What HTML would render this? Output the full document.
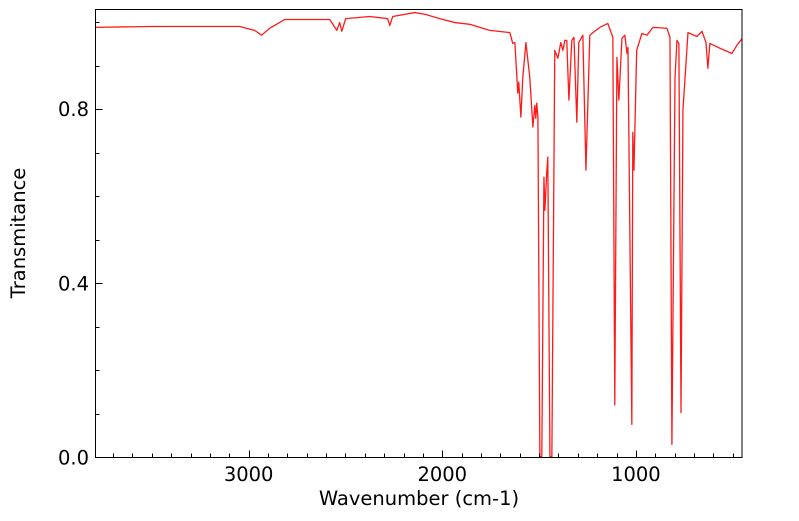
<!DOCTYPE html>
<html><head><meta charset="utf-8"><style>
body{margin:0;background:#fff;width:799px;height:516px;overflow:hidden}
svg text{font-family:"DejaVu Sans","Liberation Sans",sans-serif;font-size:19.5px;fill:#000}
</style></head><body>
<svg id="chart" width="799" height="516"></svg>
<script>
const wavenumbers=[3791,3512,3047,2969,2933,2891,2814,2581,2545,2530,2519,2499,2375,2282,2271,2256,2142,2090,2013,1935,1858,1806,1755,1651,1636,1625,1610,1605,1594,1584,1568,1548,1532,1522,1517,1512,1506,1496,1486,1475,1470,1460,1455,1444,1434,1419,1403,1388,1377,1367,1357,1346,1331,1320,1305,1295,1274,1258,1238,1222,1186,1145,1119,1109,1098,1088,1072,1057,1046,1041,1021,1016,1010,996,969,943,912,840,824,814,798,788,778,767,757,747,731,685,659,638,628,618,566,504,478,452];
const transmittance=[0.988,0.990,0.990,0.981,0.970,0.986,1.006,1.006,0.981,0.999,0.979,1.008,1.013,1.008,0.992,1.013,1.022,1.018,1.008,0.999,0.995,0.988,0.981,0.976,0.951,0.953,0.837,0.862,0.782,0.873,0.953,0.873,0.759,0.809,0.779,0.814,0.782,0.002,0.002,0.644,0.568,0.660,0.690,0.002,0.002,0.935,0.917,0.953,0.935,0.958,0.958,0.821,0.958,0.965,0.770,0.953,0.970,0.660,0.970,0.976,0.988,0.997,0.965,0.121,0.919,0.821,0.963,0.970,0.928,0.942,0.076,0.747,0.660,0.935,0.974,0.970,0.988,0.986,0.965,0.030,0.873,0.958,0.951,0.103,0.798,0.866,0.976,0.967,0.979,0.953,0.894,0.951,0.940,0.928,0.947,0.962];
const xTickLabels=[3000,2000,1000];
const yTickLabels=[0.0,0.4,0.8];
const NS="http://www.w3.org/2000/svg";
const svg=document.getElementById('chart');
const L=95.5,R=742,T=9.5,B=457.5;
const X0=3791,X1=452,Y0=0,Y1=1.029;
function sx(w){return L+(X0-w)/(X0-X1)*(R-L);}
function sy(v){return B-(v-Y0)/(Y1-Y0)*(B-T);}
function mk(tag,attrs){const e=document.createElementNS(NS,tag);for(const k in attrs)e.setAttribute(k,attrs[k]);svg.appendChild(e);return e;}
const d=wavenumbers.map((w,i)=>(i?'L':'M')+sx(w).toFixed(2)+','+sy(transmittance[i]).toFixed(2)).join('');
const line=mk('path',{d:d,fill:'none',stroke:'#ff1a1a','stroke-width':1.3,'stroke-linejoin':'round'});


const frame=mk('rect',{x:L,y:T,width:R-L,height:B-T,fill:'none',stroke:'#000','stroke-width':1});


let tp='';
for(let w=3700;w>=500;w-=100){const x=Math.round(sx(w))+0.5;const len=(w%1000===0)?7:4;tp+='M'+x+','+B+'V'+(B-len);}
for(let v=0.1;v<=1.0;v+=0.1){const y=Math.round(sy(v))+0.5;const len=(Math.round(v*10)%4===0)?7:4;tp+='M'+L+','+y+'H'+(L+len);}
const ticks=mk('path',{d:tp,stroke:'#000','stroke-width':1,fill:'none'});


xTickLabels.forEach(w=>{const t=mk('text',{x:sx(w),y:481,'text-anchor':'middle'});t.textContent=w;

});
yTickLabels.forEach(v=>{const t=mk('text',{x:89,y:sy(v)+7,'text-anchor':'end'});t.textContent=v.toFixed(1);

});
const xt=mk('text',{x:419,y:505,'text-anchor':'middle'});xt.textContent='Wavenumber (cm-1)';


const yt=mk('text',{x:0,y:0,'text-anchor':'middle',transform:'translate(25,233) rotate(-90)'});yt.textContent='Transmitance';


</script>
</body></html>
